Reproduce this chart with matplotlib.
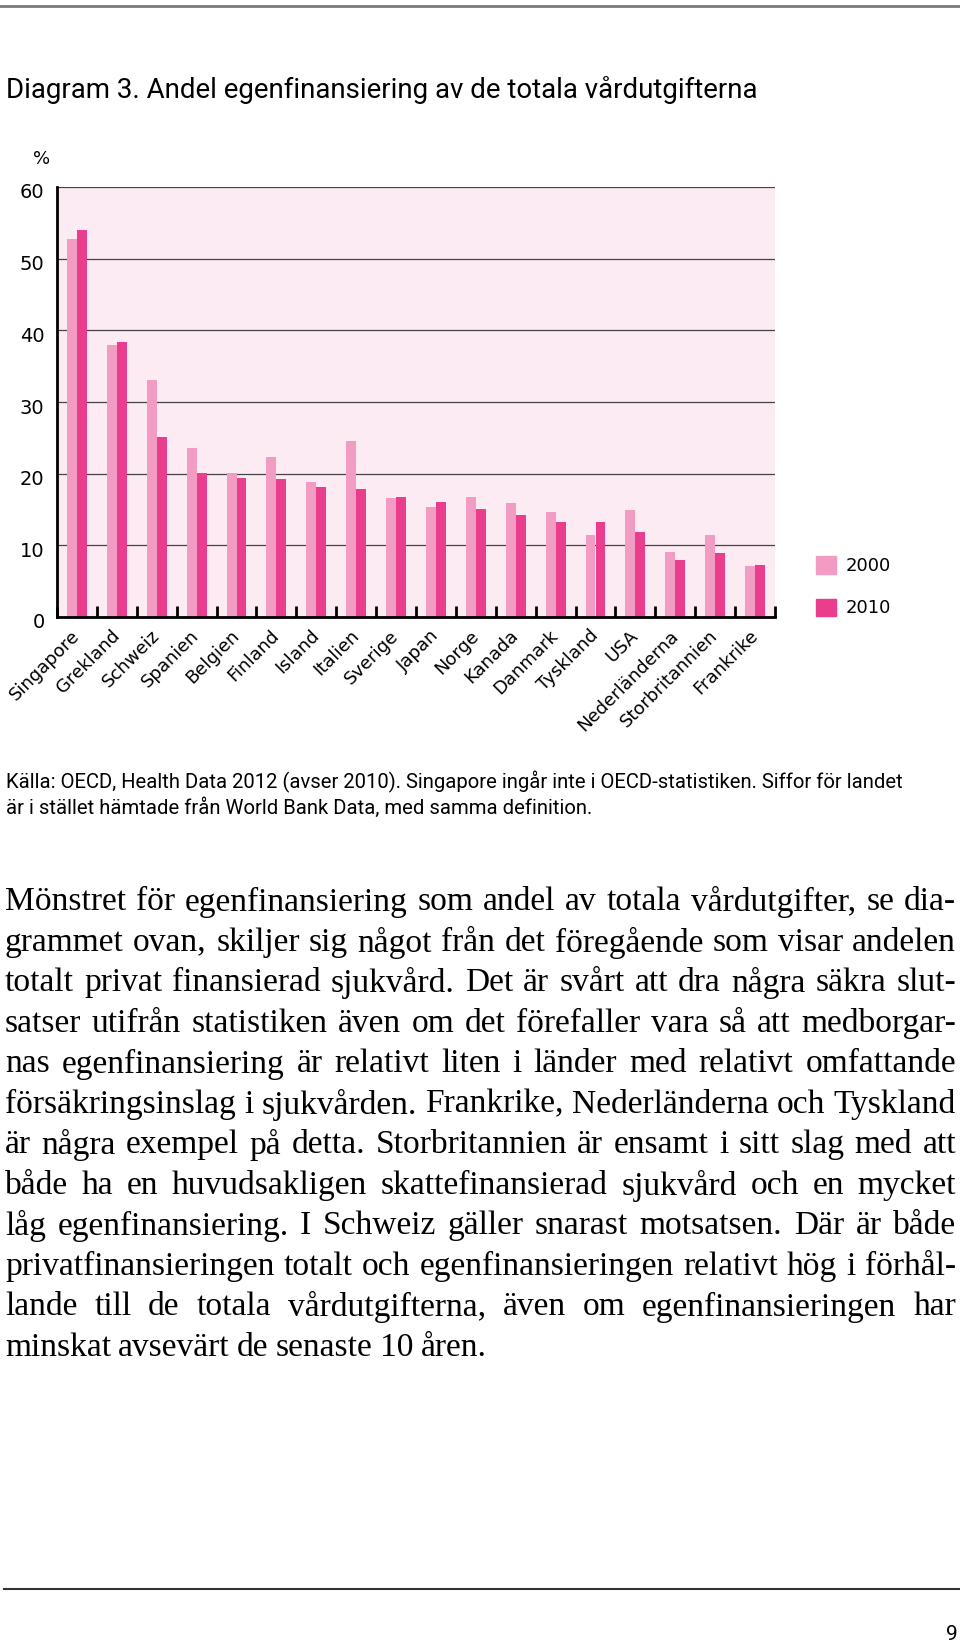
import matplotlib
matplotlib.use("Agg")
import matplotlib.pyplot as plt
import matplotlib.transforms as mtransforms
from matplotlib.patches import Patch
import numpy as np

# data
countries = ["Singapore", "Grekland", "Schweiz", "Spanien", "Belgien", "Finland",
             "Island", "Italien", "Sverige", "Japan", "Norge", "Kanada", "Danmark",
             "Tyskland", "USA", "Nederländerna", "Storbritannien", "Frankrike"]
v2000 = [52.8, 37.9, 33.0, 23.6, 20.1, 22.3, 18.9, 24.5, 16.6, 15.4, 16.7, 15.9,
         14.7, 11.4, 14.9, 9.0, 11.4, 7.1]
v2010 = [54.0, 38.4, 25.1, 20.1, 19.4, 19.2, 18.2, 17.9, 16.8, 16.0, 15.0, 14.2,
         13.2, 13.2, 11.8, 8.0, 8.9, 7.3]
years = ["2000", "2010"]
yticks = [0, 10, 20, 30, 40, 50, 60]

title = "Diagram 3. Andel egenfinansiering av de totala vårdutgifterna"
source = ["Källa: OECD, Health Data 2012 (avser 2010). Singapore ingår inte i OECD-statistiken. Siffor för landet",
          "är i stället hämtade från World Bank Data, med samma definition."]
body = [
    "Mönstret för egenfinansiering som andel av totala vårdutgifter, se dia-",
    "grammet ovan, skiljer sig något från det föregående som visar andelen",
    "totalt privat finansierad sjukvård. Det är svårt att dra några säkra slut-",
    "satser utifrån statistiken även om det förefaller vara så att medborgar-",
    "nas egenfinansiering är relativt liten i länder med relativt omfattande",
    "försäkringsinslag i sjukvården. Frankrike, Nederländerna och Tyskland",
    "är några exempel på detta. Storbritannien är ensamt i sitt slag med att",
    "både ha en huvudsakligen skattefinansierad sjukvård och en mycket",
    "låg egenfinansiering. I Schweiz gäller snarast motsatsen. Där är både",
    "privatfinansieringen totalt och egenfinansieringen relativt hög i förhål-",
    "lande till de totala vårdutgifterna, även om egenfinansieringen har",
    "minskat avsevärt de senaste 10 åren.",
]

C2000 = "#f39cc3"
C2010 = "#ea3d8e"
BG = "#fdebf3"
W, H = 960, 1644
NARROW = ["Roboto", "DejaVu Sans"]
SANS = ["DejaVu Sans"]
SERIF = ["Liberation Serif", "DejaVu Serif"]

fig = plt.figure(figsize=(W / 100, H / 100), dpi=100)
r = fig.canvas.get_renderer()


def fy(py):
    return 1 - py / H


def fx(px):
    return px / W


def fit(t, width):
    # shrink/grow a text so it spans the given pixel width
    w = t.get_window_extent(r).width
    t.set_fontsize(t.get_fontsize() * width / w)


ax = fig.add_axes([fx(57), fy(617), fx(775) - fx(57), fy(187) - fy(617)])
ax.set_facecolor(BG)
x = np.arange(len(countries))
ax.bar(x - 0.125, v2000, width=0.25, color=C2000, zorder=2)
ax.bar(x + 0.125, v2010, width=0.25, color=C2010, zorder=2)
ax.set_xlim(-0.5, len(countries) - 0.5)
ax.set_ylim(0, 60)
ax.set_yticks(yticks)
ax.yaxis.grid(True, color="#444444", linewidth=0.9, zorder=1)
ax.set_axisbelow(True)
for s in ["top", "right"]:
    ax.spines[s].set_visible(False)
ax.spines["left"].set_linewidth(2)
ax.spines["bottom"].set_linewidth(2)
ax.tick_params(axis="y", length=0, pad=9, labelsize=14)
ax.set_xticks(x)
ax.set_xticklabels(countries, rotation=45, ha="right", va="center",
                   rotation_mode="anchor", fontsize=13)
ax.tick_params(axis="x", which="major", length=0, pad=11.5)
ax.set_xticks(np.arange(-0.5, len(countries)), minor=True)
ax.tick_params(axis="x", which="minor", direction="in", length=8, width=2)
for lab in ax.get_xticklabels() + ax.get_yticklabels():
    lab.set_family(SANS)
down = mtransforms.ScaledTranslation(0, -4 / 100, fig.dpi_scale_trans)
for lab in ax.get_yticklabels():
    lab.set_transform(lab.get_transform() + down)

handles = [Patch(color=C2000), Patch(color=C2010)]
fig.legend(handles, years, loc="upper left", bbox_to_anchor=(fx(800), fy(540)),
           frameon=False, handlelength=1.1, handleheight=1.1,
           labelspacing=1.3, handletextpad=0.5, prop={"family": SANS, "size": 13})

fig.text(fx(42), fy(159), "%", ha="center", va="center", fontsize=13, family=SANS)
t = fig.text(fx(6), fy(90), title, ha="left", va="center", fontsize=21, family=NARROW)
fit(t, 753)
src = [fig.text(fx(6), fy(782 + i * 26), line, ha="left", va="center", fontsize=14,
                family=NARROW) for i, line in enumerate(source)]
fit(src[0], 902)
src[1].set_fontsize(src[0].get_fontsize())

# rules at top and bottom of page
fig.add_artist(plt.Line2D([0, 1], [fy(6), fy(6)], color="#7a7a7a", linewidth=2))
fig.add_artist(plt.Line2D([fx(4), 1], [fy(1589), fy(1589)], color="#333333",
                          linewidth=1.5))
fig.text(fx(958), fy(1634), "9", ha="right", va="center", fontsize=15, family=NARROW)

# justified body text; size chosen so the widest line fits with normal spacing
x0, x1 = 5, 956
probe = [fig.text(0, 0, line, fontsize=21, family=SERIF) for line in body]
widest = max(p.get_window_extent(r).width for p in probe)
for p in probe:
    p.remove()
size = 21 * (x1 - x0) / widest
for i, line in enumerate(body):
    y = fy(902 + i * 40.5)
    words = line.split()
    ts = [fig.text(0, y, w, ha="left", va="center", fontsize=size, family=SERIF)
          for w in words]
    ws = [t.get_window_extent(r).width for t in ts]
    if i == len(body) - 1:
        gap = size * 0.3
    else:
        gap = (x1 - x0 - sum(ws)) / (len(ws) - 1)
    px = x0
    for t, w in zip(ts, ws):
        t.set_x(fx(px))
        px += w + gap

fig.savefig("out.png", dpi=100)
